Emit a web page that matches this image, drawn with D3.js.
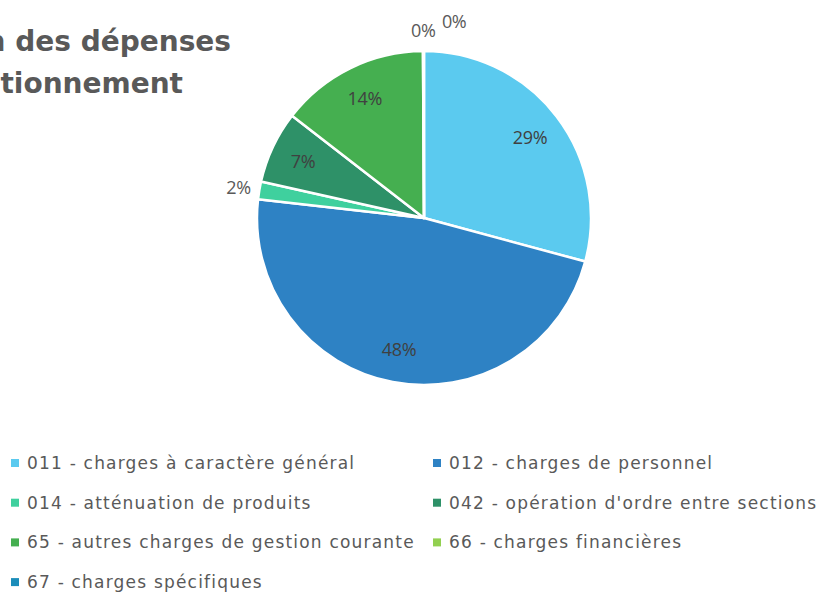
<!DOCTYPE html>
<html><head><meta charset="utf-8">
<script src="https://cdn.jsdelivr.net/npm/d3@7"></script>
<style>
html,body{margin:0;padding:0;background:#fff;overflow:hidden}
svg{display:block}
</style></head>
<body>
<script>
const categories = [
  "011 - charges à caractère général",
  "012 - charges de personnel",
  "014 - atténuation de produits",
  "042 - opération d'ordre entre sections",
  "65 - autres charges de gestion courante",
  "66 - charges financières",
  "67 - charges spécifiques"
];
const values = [29.2, 47.6, 1.7, 7.0, 14.4, 0.06, 0.04];
const colors = ["#5BCAEF", "#2E82C4", "#3FD09E", "#2E9168", "#45AF50", "#92D050", "#1B8DBA"];
const titleLines = ["Répartition des dépenses", "de fonctionnement"];

const W = 824, H = 592;
const svg = d3.select("body").append("svg").attr("width", W).attr("height", H);
const textColor = "#595959";

// Title (clipped at left like the reference)
const title = svg.append("text")
  .attr("text-anchor", "end")
  .attr("fill", textColor)
  .attr("font-family", "'DejaVu Sans', sans-serif")
  .attr("font-weight", "bold")
  .attr("font-size", 28);
title.append("tspan").attr("x", 231).attr("y", 51).text(titleLines[0]);
title.append("tspan").attr("x", 183).attr("y", 93).text(titleLines[1]);

// Pie
const cx = 424, cy = 218, r = 167;
const pie = d3.pie().sort(null).value(d => d);
const arcs = pie(values);
const arc = d3.arc().innerRadius(0).outerRadius(r);
const g = svg.append("g").attr("transform", `translate(${cx},${cy})`);
g.selectAll("path").data(arcs).join("path")
  .attr("d", arc)
  .attr("fill", (d, i) => colors[i])
  .attr("stroke", "#fff")
  .attr("stroke-width", 2.5)
  .attr("stroke-linejoin", "round");

const total = d3.sum(values);
const inner = d3.arc().innerRadius(r * 0.8).outerRadius(r * 0.8);
const outer = d3.arc().innerRadius(r + 21).outerRadius(r + 21);
let prev = null;
arcs.forEach((d, i) => {
  const pct = Math.round(d.value / total * 100);
  const isSmall = d.value / total < 0.03;
  let [x, y] = (isSmall ? outer : inner).centroid(d);
  if (isSmall && prev && Math.hypot(x - prev[0], y - prev[1]) < 25) {
    x = prev[0] + 31; y = prev[1] - 9;
  }
  if (isSmall) prev = [x, y];
  g.append("text")
    .attr("x", x).attr("y", y)
    .attr("text-anchor", "middle")
    .attr("dominant-baseline", "central")
    .attr("fill", isSmall ? textColor : "#404040")
    .attr("font-family", "'Open Sans', sans-serif")
    .attr("font-size", 18)
    .attr("letter-spacing", -0.3)
    .text(pct + "%");
});

// Legend
const legend = svg.append("g");
const colX = [11, 433], rowY0 = 463, rowStep = 39.7;
categories.forEach((c, i) => {
  const col = i % 2, row = Math.floor(i / 2);
  const lg = legend.append("g").attr("transform", `translate(${colX[col]},${rowY0 + row * rowStep})`);
  lg.append("rect").attr("x", 0).attr("y", -4).attr("width", 8).attr("height", 8).attr("fill", colors[i]);
  lg.append("text").attr("x", 16).attr("y", 0)
    .attr("dominant-baseline", "central")
    .attr("fill", textColor)
    .attr("font-family", "'DejaVu Sans', sans-serif")
    .attr("font-size", 17)
    .attr("letter-spacing", 1.2)
    .text(c);
});
</script>
</body></html>
